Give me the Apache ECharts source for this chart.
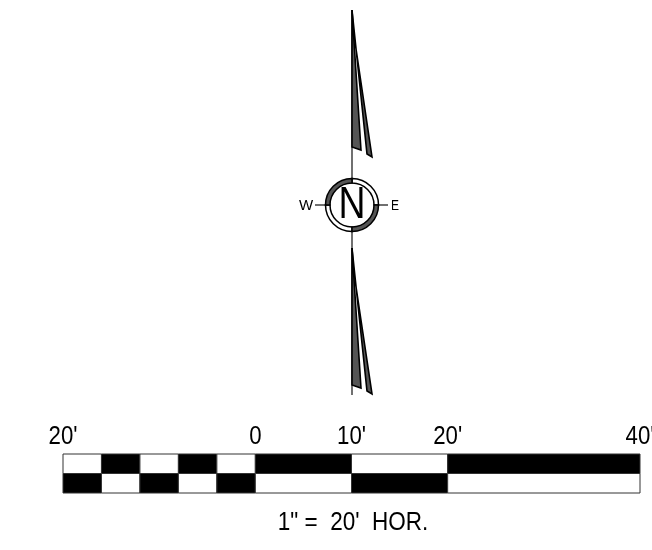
<!DOCTYPE html>
<html><head><meta charset="utf-8">
<style>html,body{margin:0;padding:0;background:#fff}#c{width:652px;height:550px}</style>
<script src="https://cdn.jsdelivr.net/npm/echarts@6/dist/echarts.min.js"></script>
</head><body><div id="c"></div>
<script>
// Scale bar: distances in feet
const scaleTicks = [-20, 0, 10, 20, 40];
const scaleTickLabels = ["20'", "0", "10'", "20'", "40'"];
const scaleEdges = [-20, -16, -12, -8, -4, 0, 10, 20, 40];
const topRowFill = [0, 1, 0, 1, 0, 1, 0, 1];
const bottomRowFill = [1, 0, 1, 0, 1, 0, 1, 0];
const scaleCaption = "1\" =  20'  HOR.";
// North arrow outlines, in drawing units
const upperBlade = [[352, 10], [352, 147], [361, 150]];
const upperVane = [[352, 10], [367, 154], [372, 157], [355, 42]];
const lowerBlade = [[352, 248], [352, 385], [361, 388]];
const lowerVane = [[352, 248], [367, 391], [372, 394], [355, 280]];
const shaftLines = [[[352, 10], [352, 178]], [[352, 232], [352, 395]], [[315, 205], [326, 205]], [[378, 205], [388, 205]]];
const compassCentre = [352, 205];
const compassOuter = 26.5, compassInner = 22;
// text, x, y, font size, horizontal squeeze
const compassLetters = [["N", 352, 205.5, 44, 0.85], ["W", 306, 205.5, 15, 1], ["E", 395, 205.5, 15, 0.8]];
const captionText = [[scaleCaption, 353, 523, 25, 0.9]];

const fills = { 0: '#ffffff', 1: '#000000' };
const cells = [];
[[topRowFill, 1], [bottomRowFill, 0]].forEach(([row, y]) => row.forEach((f, i) => cells.push([scaleEdges[i], scaleEdges[i + 1], y, f])));
const polygons = [upperBlade, upperVane, lowerBlade, lowerVane];
const labelsData = captionText.concat(compassLetters);
const D = Math.PI / 180;
const FONT = '"Liberation Sans", Arial, sans-serif';
const squeezed = (txt, x, y, size, sx) => ({ type: 'text', x, y, scaleX: sx, scaleY: 1,
  style: { text: txt, textAlign: 'center', textVerticalAlign: 'middle', font: size + 'px ' + FONT, fill: '#000' } });

const chart = echarts.init(document.getElementById('c'), null, { renderer: 'canvas' });
chart.setOption({
  animation: false,
  backgroundColor: '#ffffff',
  grid: [
    { left: 63, width: 577, top: 454, height: 39, outerBoundsMode: 'none' },
    { left: 0, width: 652, top: 0, height: 550, outerBoundsMode: 'none' }
  ],
  xAxis: [
    { gridIndex: 0, type: 'value', min: -20, max: 40, show: false },
    { gridIndex: 1, type: 'value', min: 0, max: 652, show: false }
  ],
  yAxis: [
    { gridIndex: 0, type: 'value', min: 0, max: 2, show: false },
    { gridIndex: 1, type: 'value', min: 0, max: 550, inverse: true, show: false }
  ],
  series: [
    { type: 'custom', xAxisIndex: 0, yAxisIndex: 0, silent: true, data: cells, clip: false,
      encode: { x: [0, 1], y: 2 },
      renderItem(p, api) {
        const a = api.coord([api.value(0), api.value(2) + 1]);
        const b = api.coord([api.value(1), api.value(2)]);
        return { type: 'rect', shape: { x: a[0], y: a[1], width: b[0] - a[0], height: b[1] - a[1] },
          style: { fill: fills[api.value(3)], stroke: '#333', lineWidth: 1 } };
      } },
    { type: 'custom', xAxisIndex: 0, yAxisIndex: 0, silent: true, data: scaleTicks.map((t, i) => [t, i]), clip: false,
      encode: { x: 0 },
      renderItem(p, api) {
        const a = api.coord([api.value(0), 2]);
        return squeezed(scaleTickLabels[api.value(1)], a[0], a[1] - 17, 25, 0.89);
      } },
    { type: 'custom', xAxisIndex: 1, yAxisIndex: 1, silent: true, data: shaftLines.map((_, i) => i), clip: false,
      encode: { x: 0, y: 0 },
      renderItem(p, api) {
        const s = shaftLines[api.value(0)];
        const a = api.coord(s[0]), b = api.coord(s[1]);
        return { type: 'line', shape: { x1: a[0], y1: a[1], x2: b[0], y2: b[1] }, style: { stroke: '#111', lineWidth: 1.2 } };
      } },
    { type: 'custom', xAxisIndex: 1, yAxisIndex: 1, silent: true, data: polygons.map((_, i) => i), clip: false,
      encode: { x: 0, y: 0 },
      renderItem(p, api) {
        const pts = polygons[api.value(0)].map(q => api.coord(q));
        return { type: 'polygon', shape: { points: pts }, style: { fill: '#555', stroke: '#000', lineWidth: 1.6, lineJoin: 'miter' } };
      } },
    { type: 'custom', xAxisIndex: 1, yAxisIndex: 1, silent: true, data: [compassCentre], clip: false,
      encode: { x: 0, y: 1 },
      renderItem(p, api) {
        const c = api.coord([api.value(0), api.value(1)]);
        const ring = (s, e, fill) => ({ type: 'sector',
          shape: { cx: c[0], cy: c[1], r: compassOuter, r0: compassInner, startAngle: s * D, endAngle: e * D },
          style: { fill, stroke: '#000', lineWidth: 1.5 } });
        return { type: 'group', children: [
          ring(-90, 0, '#fff'), ring(90, 180, '#fff'),
          ring(180, 270, '#555'), ring(0, 90, '#555')
        ] };
      } },
    { type: 'custom', xAxisIndex: 1, yAxisIndex: 1, silent: true, data: labelsData.map((_, i) => i), clip: false,
      encode: { x: 0, y: 0 },
      renderItem(p, api) {
        const l = labelsData[api.value(0)];
        const a = api.coord([l[1], l[2]]);
        return squeezed(l[0], a[0], a[1], l[3], l[4]);
      } }
  ]
});
</script></body></html>
